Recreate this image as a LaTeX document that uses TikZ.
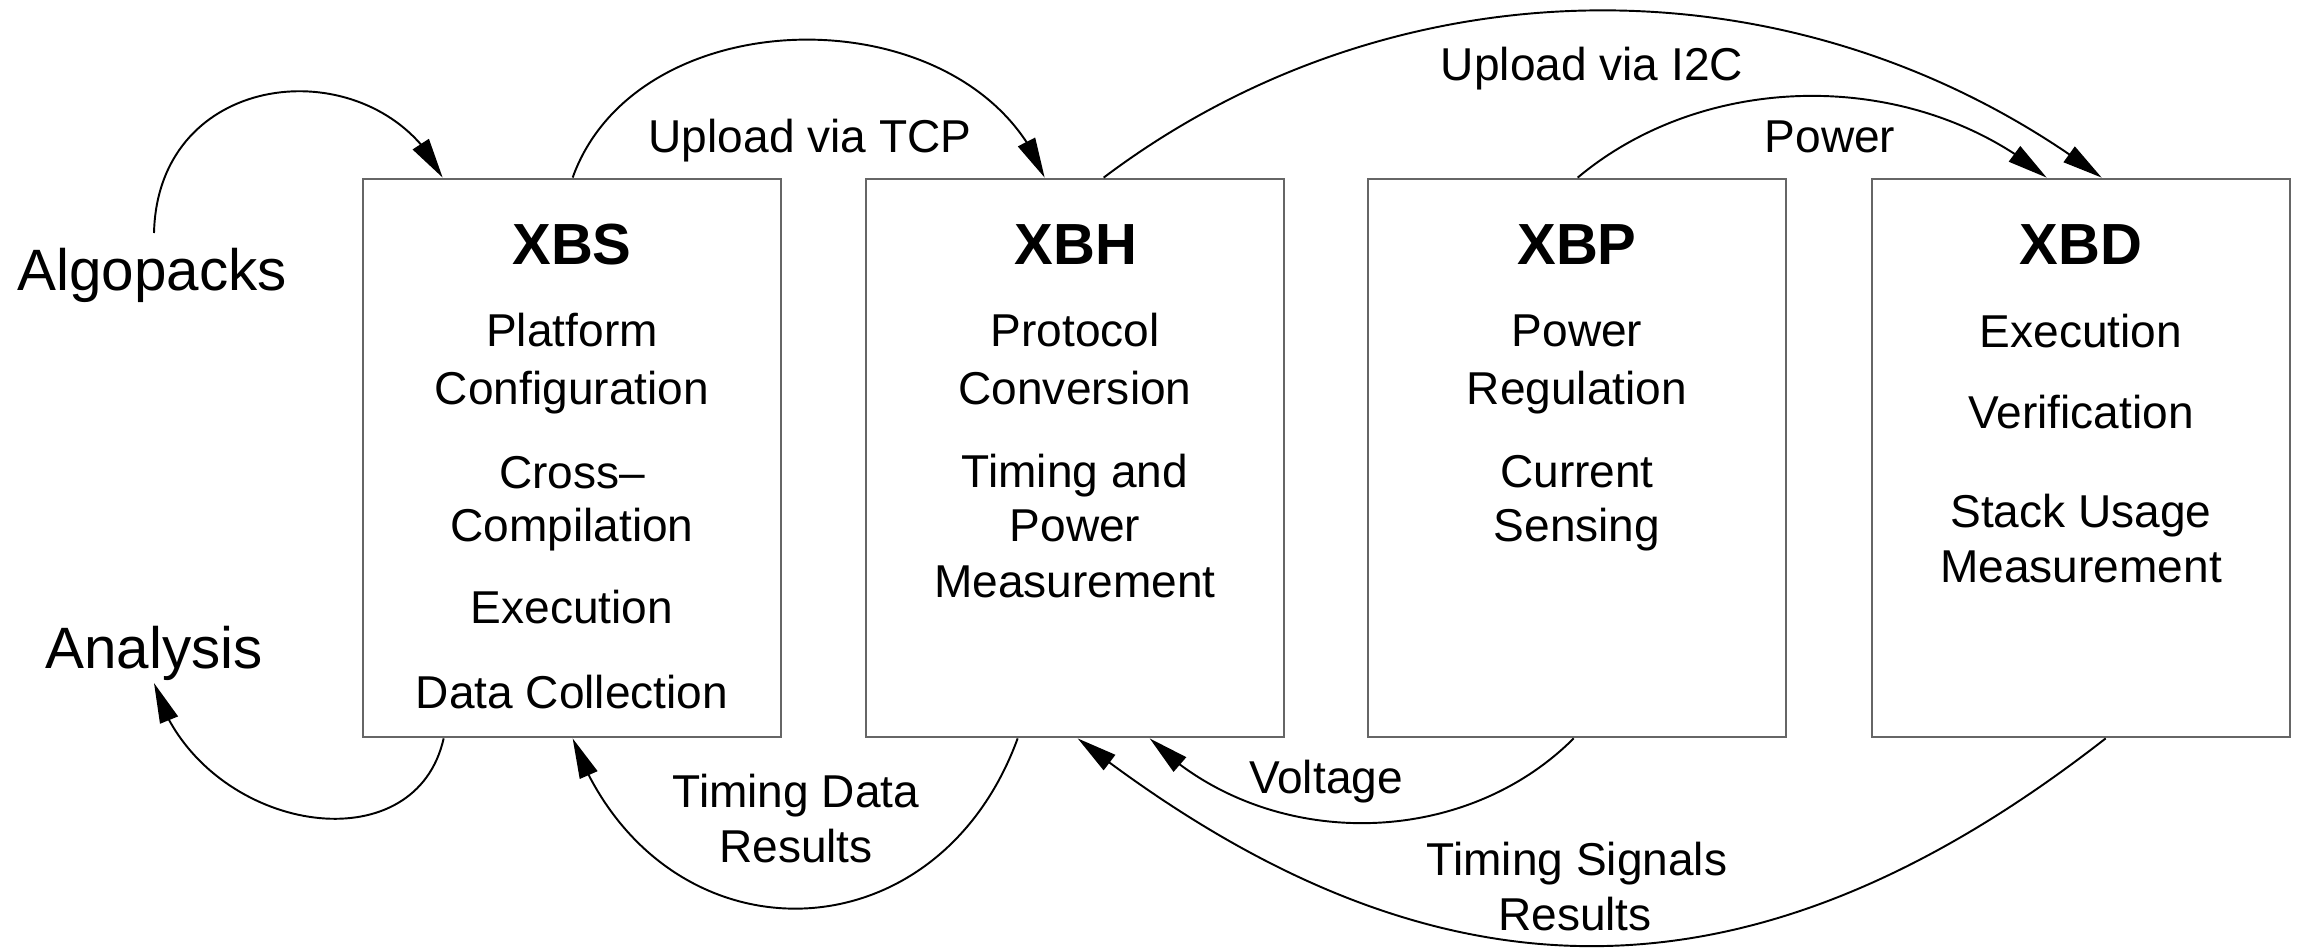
\documentclass[tikz,border=0pt]{standalone}
\usepackage{fontspec}
\setmainfont{Liberation Sans}
\usetikzlibrary{arrows.meta,bending,calc}
\begin{document}
\begin{tikzpicture}[x=0.01cm,y=-0.01cm,
  box/.style={draw=black!60,line width=0.7pt,minimum width=4.18cm,minimum height=5.58cm,inner sep=0pt},
  txt/.style={anchor=base,inner sep=0pt,font=\fontsize{13.1}{16}\selectfont},
  head/.style={anchor=base,inner sep=0pt,font=\fontsize{16.5}{19}\selectfont\bfseries},
  side/.style={anchor=base,inner sep=0pt,font=\fontsize{16.6}{19}\selectfont},
  link/.style={line width=0.55pt,-{Triangle[length=0.4cm,width=0.19cm,flex]}},
]
\useasboundingbox (0,0) rectangle (2300,948);

% the four boards
\node[box] (xbs) at (572,458) {};
\node[box] (xbh) at (1075,458) {};
\node[box] (xbp) at (1577,458) {};
\node[box] (xbd) at (2081,458) {};

% XBS
\node[head] (xbs-t) at (572,264) {XBS};
\node[txt] (xbs-1) at (572,346) {Platform};
\node[txt] (xbs-2) at (572,404) {Configuration};
\node[txt] (xbs-3) at (572,488) {Cross–};
\node[txt] (xbs-4) at (572,541) {Compilation};
\node[txt] (xbs-5) at (572,623) {Execution};
\node[txt] (xbs-6) at (572,708) {Data Collection};

% XBH
\node[head] (xbh-t) at (1076,264) {XBH};
\node[txt] (xbh-1) at (1075,346) {Protocol};
\node[txt] (xbh-2) at (1075,404) {Conversion};
\node[txt] (xbh-3) at (1075,487) {Timing and};
\node[txt] (xbh-4) at (1075,541) {Power};
\node[txt] (xbh-5) at (1075,597) {Measurement};

% XBP
\node[head] (xbp-t) at (1577,264) {XBP};
\node[txt] (xbp-1) at (1577,346) {Power};
\node[txt] (xbp-2) at (1577,404) {Regulation};
\node[txt] (xbp-3) at (1577,487) {Current};
\node[txt] (xbp-4) at (1577,541) {Sensing};

% XBD
\node[head] (xbd-t) at (2081,264) {XBD};
\node[txt] (xbd-1) at (2081,347) {Execution};
\node[txt] (xbd-2) at (2081,428) {Verification};
\node[txt] (xbd-3) at (2081,527) {Stack Usage};
\node[txt] (xbd-4) at (2081,582) {Measurement};

% outside labels
\node[side] (alg) at (152,290) {Algopacks};
\node[side] (ana) at (154,668) {Analysis};

% connector labels
\node[txt] (tcp) at (810,152) {Upload via TCP};
\node[txt] (i2c) at (1592,80) {Upload via I2C};
\node[txt] (pwr) at (1830,152) {Power};
\node[txt] (tdr1) at (796,807) {Timing Data};
\node[txt] (tdr2) at (796,862) {Results};
\node[txt] (volt) at (1326,793) {Voltage};
\node[txt] (tsr1) at (1577,875) {Timing Signals};
\node[txt] (tsr2) at (1575,930) {Results};

% connectors
\draw[link] ($(alg.base)+(2,-57)$) .. controls +(4,-170) and +(-62,-130) .. ($(xbs.north west)+(81,0)$);
\draw[link] ($(xbs.north west)+(211,0)$) .. controls +(66,-184) and +(-70,-184) .. ($(xbh.north west)+(180,0)$);
\draw[link] ($(xbh.north west)+(239,0)$) .. controls +(296,-223) and +(-296,-223) .. ($(xbd.north west)+(231,0)$);
\draw[link] ($(xbp.north west)+(211,0)$) .. controls +(130,-109) and +(-130,-109) .. ($(xbd.north west)+(176,0)$);
\draw[link] ($(xbs.south west)+(82,0)$) .. controls +(-30,133) and +(41,147) .. ($(ana.base)+(0,15)$);
\draw[link] ($(xbh.south west)+(153,0)$) .. controls +(-83,227) and +(83,227) .. ($(xbs.south west)+(211,0)$);
\draw[link] ($(xbp.south west)+(207,0)$) .. controls +(-113,113) and +(113,113) .. ($(xbh.south west)+(285,0)$);
\draw[link] ($(xbd.south west)+(235,0)$) .. controls +(-355,277) and +(355,277) .. ($(xbh.south west)+(213,0)$);
\end{tikzpicture}
\end{document}
